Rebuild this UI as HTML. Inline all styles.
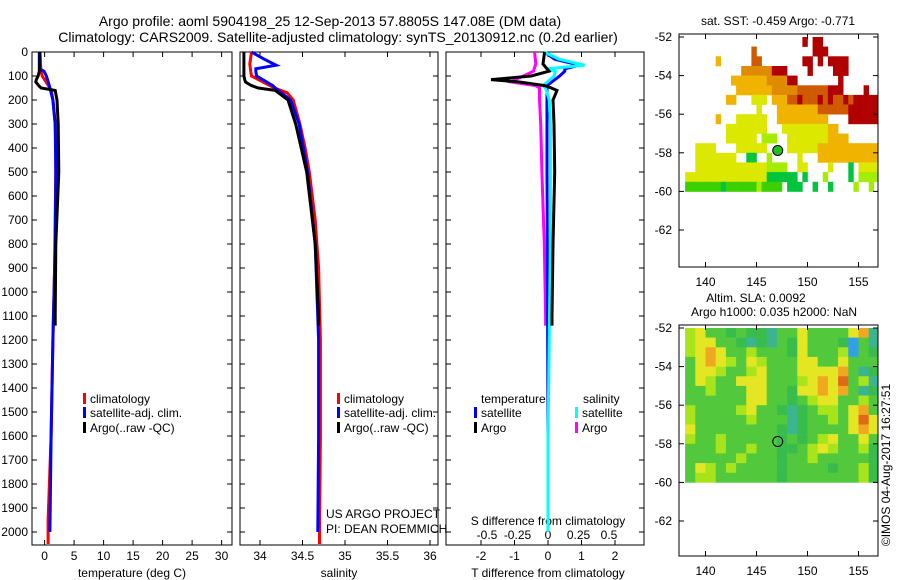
<!DOCTYPE html>
<html><head><meta charset="utf-8">
<style>
html,body{margin:0;padding:0;background:#fff;}
svg{display:block;font-family:"Liberation Sans",sans-serif;}
</style></head>
<body>
<svg id="chart" width="900" height="580" viewBox="0 0 900 580" xmlns="http://www.w3.org/2000/svg">
<text x="330" y="26" font-size="14" text-anchor="middle">Argo profile: aoml 5904198_25 12-Sep-2013 57.8805S 147.08E (DM data)</text>
<text x="338" y="42" font-size="14" text-anchor="middle">Climatology: CARS2009. Satellite-adjusted climatology: synTS_20130912.nc (0.2d earlier)</text>
<g id="g"></g>
</svg>
<script>
// ---- data ----
const depthTicks=[0,100,200,300,400,500,600,700,800,900,1000,1100,1200,1300,1400,1500,1600,1700,1800,1900,2000];
const tempTicks=[0,5,10,15,20,25,30];
const salTicks=[34,34.5,35,35.5,36];
const tdiffTicks=[-2,-1,0,1,2];
const sdiffTicks=[-0.5,-0.25,0,0.25,0.5];
const sdiffTickLabels=["-0.5","-0.25","0","0.25","0.5"];

const argoDepth=[0,50,80,100,115,125,140,150,160,200,300,500,800,1100,1140];
const argoTemp=[-0.8,-0.8,-0.9,-1.1,-1.4,-1.5,-1.0,-0.6,1.8,2.1,2.3,2.4,1.9,1.8,1.8];
const argoSal=[33.81,33.81,33.81,33.81,33.82,33.83,33.9,33.98,34.18,34.33,34.42,34.55,34.65,34.69,34.69];
const argoTdiff=[-0.1,-0.15,0.03,-0.5,-1.7,-0.85,-0.1,0.1,0.27,0.15,0.18,0.2,0.15,0.12,0.12];
const argoSdiff=[-0.11,-0.1,-0.12,-0.2,-0.27,-0.3,-0.1,-0.07,-0.07,-0.07,-0.06,-0.05,-0.03,-0.02,-0.02];

const climDepth=[0,50,80,100,150,170,200,300,400,500,700,900,1200,1600,1950,2050];
const climTemp=[-0.8,-0.7,-0.6,-0.4,0.9,1.2,1.4,1.8,1.9,1.9,1.8,1.7,1.4,1.1,0.6,0.6];
const climSal=[33.9,33.88,33.89,33.9,34.17,34.32,34.39,34.47,34.53,34.58,34.65,34.69,34.71,34.71,34.7,34.7];

const satDepth=[0,30,55,70,80,100,140,150,200,300,500,800,1200,1600,2000];
const satTemp=[-0.9,-0.9,-0.9,-0.9,-0.1,0.3,0.8,0.9,1.4,1.8,1.9,1.8,1.4,1.1,0.9];
const satSal=[33.9,34.05,34.19,33.95,33.95,33.96,34.15,34.18,34.36,34.46,34.56,34.65,34.69,34.69,34.68];
const satTdiff=[-0.1,0.2,0.95,0.5,0.5,0.35,-0.03,-0.03,-0.03,-0.03,-0.03,-0.02,-0.01,0,0];
const satSdiff=[-0.03,0.09,0.3,0.0,0.06,0.05,-0.04,-0.02,0.01,0.02,0.02,0.02,0.01,0,0];

// SST map rows (lat -52 downward, 0.5 deg), cols lon 138..157 by 0.5
const sstRows=[
".......................R.RR",
".............r...........RRR",
"......o......rr........RR.R.RRRR",
"...........OOOOOORRR....R....RRR",
".........oooooooOOOORR........R",
"..........oooooooOOOOOrrrrrrRRR....R",
"........oo...yyy.ooorrRrrrRrRrrRrRRRRR",
"..............y...oooooooorrrrrrRRRRRR",
"......o...yyyyyy..oooooooooo....RRRRRR",
"........yyyyyyyy...yyyyyyyyyoo",
"........yyyyyy.lll..yyyyyyyyoooo",
"..yyyy....yyyyyy....yyyyyyoooooooooooo",
"..yyyyyyyy..GG..l.....y...oooooooooooo",
"..yyyyyyyyyyyyyyllll..yy....y...G.yyyy",
"yyyyyyyyyyyyyyyyGGGGGG.G...l....G.llll",
"gggggggGgggggglgggg.GGG..G..G....l..l."];
// SLA map rows (lat -52 downward, 0.5 deg), cols lon 138..157 by 1
const slaRows=[
"lyggdgddtggyggggyot","lyyggdtdtgdygggdbgt","lyoygglgggdyggglbgd","gyoylgylgggyyggyggg",
"gyylgglygggyyyyogtd","gylggyyyggglyoyOglt","gglgggyyggdyyoyogtd","ggggggyyggdglyygglg",
"lgggglyggdtdgllgyog","lggggglgggtdgglgyOy","yggggggggdtdggggyoy","lgglgggggdgdglyggyg",
"ggglgglggddglylggld","ggggglgggdgglgggggd","gylglggggdggggdggld","gllggggggdgggggggld"];
const latTicks=[-52,-54,-56,-58,-60,-62];
const lonTicks=[140,145,150,155];
const argoLon=147.08, argoLat=-57.88;

// ---- helpers ----
const NS="http://www.w3.org/2000/svg";
const G=document.getElementById('g');
function mk(tag,attrs,parent){const e=document.createElementNS(NS,tag);for(const k in attrs)e.setAttribute(k,attrs[k]);(parent||G).appendChild(e);return e;}
function txt(x,y,s,size,anchor,parent){const t=mk('text',{x:x,y:y,'font-size':size||12,'text-anchor':anchor||'start'},parent);t.textContent=s;return t;}

const Y=d=>52+d*0.24;
const xT=v=>44.6+5.9*v;
const xS=v=>260+85*(v-34);
const xTd=v=>548+33.5*v;
const xSd=v=>548+122*v;

function frame(x0,x1,y0,y1,name){
  const r=mk('rect',{x:x0,y:y0,width:x1-x0,height:y1-y0,fill:'none',stroke:'#000','stroke-width':1});
  
}
function line(xs,depths,fx,color,name,w){
  const pts=xs.map((v,i)=>fx(v).toFixed(1)+','+Y(depths[i]).toFixed(1)).join(' ');
  const p=mk('polyline',{points:pts,fill:'none',stroke:color,'stroke-width':w||3});
  
}
// panels
const panels=[[32,232],[240,438],[446,644]];
frame(32,232,52,545,'temperature-panel');
frame(240,438,52,545,'salinity-panel');
frame(446,644,52,545,'difference-panel');
// y ticks
depthTicks.forEach(d=>{
  const y=Y(d);
  const t=txt(28,y+4,String(d),12,'end');
  
  panels.forEach(p=>{mk('line',{x1:p[0],x2:p[0]+5,y1:y,y2:y,stroke:'#000'});mk('line',{x1:p[1]-5,x2:p[1],y1:y,y2:y,stroke:'#000'});});
});
function xticks(vals,fx,labels,ly,name,top){
  vals.forEach((v,i)=>{const x=fx(v);
    mk('line',{x1:x,x2:x,y1:545,y2:540,stroke:'#000'});
    if(top)mk('line',{x1:x,x2:x,y1:52,y2:57,stroke:'#000'});
    const t=txt(x,ly,labels?labels[i]:String(v),12,'middle');
    });
}
xticks(tempTicks,xT,null,560,'temp-tick-label',true);
xticks(salTicks,xS,null,560,'salinity-tick-label',true);
xticks(tdiffTicks,xTd,null,560,'tdiff-tick-label',true);
sdiffTicks.forEach((v,i)=>{const x=xSd(v);const t=txt(x,539,sdiffTickLabels[i],12,'middle');});
[['temperature (deg C)',132,'temp-axis-title'],['salinity',339,'salinity-axis-title'],['T difference from climatology',548,'tdiff-axis-title']].forEach(a=>{const t=txt(a[1],577,a[0],12,'middle');});
{const t=txt(548,525,'S difference from climatology',12,'middle');}
// series
line(climTemp,climDepth,xT,'#f00','temp-climatology');
line(satTemp,satDepth,xT,'#00f','temp-satellite');
line(argoTemp,argoDepth,xT,'#000','temp-argo');
line(climSal,climDepth,xS,'#f00','salinity-climatology');
line(satSal,satDepth,xS,'#00f','salinity-satellite');
line(argoSal,argoDepth,xS,'#000','salinity-argo');
{const p=mk('line',{x1:548,x2:548,y1:Y(150),y2:Y(400),stroke:'#000','stroke-dasharray':'1,2'});}
line(argoSdiff,argoDepth,xSd,'#f0f','sdiff-argo');
line(satTdiff,satDepth,xTd,'#00f','tdiff-satellite');
line(satSdiff,satDepth,xSd,'#0ff','sdiff-satellite');
line(argoTdiff,argoDepth,xTd,'#000','tdiff-argo');
// legends
function leg(x,y,color,label,name){mk('rect',{x:x,y:y-10,width:3,height:11,fill:color});const t=txt(x+7,y,label,12);}
[[83,'temp'],[337,'sal']].forEach(a=>{leg(a[0],403,'#f00','climatology',a[1]+'-legend-climatology');leg(a[0],417,'#00f','satellite-adj. clim.',a[1]+'-legend-satellite');leg(a[0],432,'#000','Argo(..raw -QC)',a[1]+'-legend-argo');});
{const t=txt(481,403,'temperature',12);}
{const t=txt(583,403,'salinity',12);}
leg(474,417,'#00f','satellite','legend-tdiff-satellite');leg(474,432,'#000','Argo','legend-tdiff-argo');
leg(575,417,'#0ff','satellite','legend-sdiff-satellite');leg(575,432,'#f0f','Argo','legend-sdiff-argo');
{const t=txt(326,518,'US ARGO PROJECT',12);
 const t2=txt(326,533,'PI: DEAN ROEMMICH',12);}

// ---- maps ----
const mX=lon=>679+(lon-137.4)*10.2;
function map(y0,y1,lat52,rows,cw,pal,name){
  const mY=lat=>lat52+(-52-lat)*19.3;
  const g=mk('g',{});
  rows.forEach((r,ri)=>{for(let ci=0;ci<r.length;ci++){const c=r[ci];if(c==='.')continue;
    const lon=138+ci*cw;const lat=-52-ri*0.5;
    const x=Math.max(679,mX(lon));const w=Math.min(mX(lon+cw),878)-x+0.3;
    const yy=Math.max(y0,mY(lat));
    const cell=mk('rect',{x:x.toFixed(1),y:yy.toFixed(1),width:w.toFixed(1),height:(mY(lat-0.5)-yy+0.3).toFixed(1),fill:pal[c]},g);
    }});
  frame(679,878,y0,y1,name+'-frame');
  latTicks.forEach(l=>{const y=mY(l);mk('line',{x1:679,x2:684,y1:y,y2:y,stroke:'#000'});mk('line',{x1:873,x2:878,y1:y,y2:y,stroke:'#000'});
    const t=txt(672,y+4,String(l),12,'end');});
  lonTicks.forEach(l=>{const x=mX(l);mk('line',{x1:x,x2:x,y1:y1,y2:y1-5,stroke:'#000'});mk('line',{x1:x,x2:x,y1:y0,y2:y0+5,stroke:'#000'});
    const t=txt(x,y1+19,String(l),12,'middle');});
  return mY;
}
const sstPal={R:'#b00000',r:'#d05a00',O:'#e08a00',o:'#f0b400',y:'#dce800',l:'#a4ec00',g:'#3cd000',G:'#00c43c'};
const slaPal={g:'#52c83c',d:'#38bc4c',t:'#3cb490',l:'#a8e41c',y:'#e4e624',o:'#f0a820',O:'#e06818',b:'#30a0e8'};
const y1m=map(34,267,37,sstRows,0.5,sstPal,'sst-map');
const y2m=map(325,556,328,slaRows,1,slaPal,'sla-map');
{const c=mk('circle',{cx:mX(argoLon),cy:y1m(argoLat),r:5,fill:'#20c020',stroke:'#000'});
 const c2=mk('circle',{cx:mX(argoLon),cy:y2m(argoLat),r:5,fill:'none',stroke:'#000'});}
[['sat. SST: -0.459  Argo: -0.771',778,25,'sst-map-title'],['Altim. SLA: 0.0092',756,302,'sla-map-title'],['Argo h1000: 0.035 h2000: NaN',774,316,'sla-argo-title']].forEach(a=>{const t=txt(a[1],a[2],a[0],12,'middle');});
{const t=txt(0,0,'©IMOS 04-Aug-2017 16:27:51',12,'middle');t.setAttribute('transform','translate(890,465) rotate(-90)');}
</script>
</body></html>
